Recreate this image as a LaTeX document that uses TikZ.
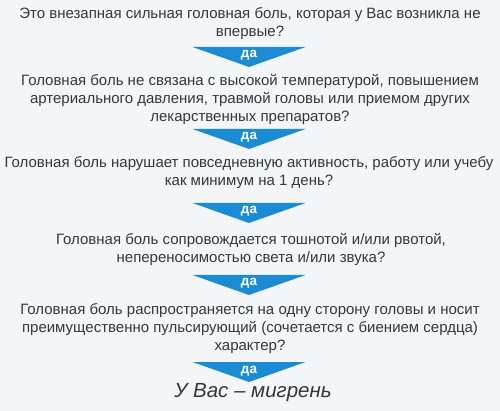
\documentclass[tikz,border=0pt]{standalone}
\usepackage{fontspec}
\setmainfont{Liberation Sans}
\usetikzlibrary{positioning}
\definecolor{dablau}{RGB}{27,139,211}
\definecolor{textgrau}{RGB}{50,55,66}
\definecolor{hintergrund}{RGB}{244,245,246}
\tikzset{
	frage/.style={
		text=textgrau,
		align=center,
		inner sep=0pt,
		font=\fontsize{15}{18}\selectfont},
	pfeil/.style={
		minimum width=113pt,
		minimum height=20pt,
		inner sep=0pt,
		text height=5.5pt,
		text depth=3.5pt,
		text=white,
		font=\fontsize{13.5}{13.5}\selectfont\bfseries,
		path picture={\fill[dablau] (path picture bounding box.north west) -- (path picture bounding box.north east) -- (path picture bounding box.south) -- cycle;}},
	ergebnis/.style={
		text=textgrau,
		inner sep=0pt,
		font=\fontsize{20.5}{20.5}\selectfont\itshape},
}

\begin{document}
\begin{tikzpicture}
			[x=1pt, y=-1pt]
			\fill[hintergrund] (0,0) rectangle (500,411);
			\useasboundingbox (0,0) rectangle (500,411);
			\node[frage] (eins) at (250,24) {Это внезапная сильная головная боль, которая у Вас возникла не\\впервые?};
			\node[pfeil] (da1) at (249,57) {да};
			\node[frage] (zwei) at (250,99) {Головная боль не связана с высокой температурой, повышением\\артериального давления, травмой головы или приемом других\\лекарственных препаратов?};
			\node[pfeil] (da2) at (249,139) {да};
			\node[frage] (drei) at (249,172.5) {Головная боль нарушает повседневную активность, работу или учебу\\как минимум на 1 день?};
			\node[pfeil] (da3) at (249,213) {да};
			\node[frage] (vier) at (251,249) {Головная боль сопровождается тошнотой и/или рвотой,\\непереносимостью света и/или звука?};
			\node[pfeil] (da4) at (249,285) {да};
			\node[frage] (fuenf) at (250,329) {Головная боль распространяется на одну сторону головы и носит\\преимущественно пульсирующий (сочетается с биением сердца)\\характер?};
			\node[pfeil] (da5) at (249,372) {да};
			\node[ergebnis] (ende) at (253,393) {У Вас – мигрень};
			\end{tikzpicture}
\end{document}
